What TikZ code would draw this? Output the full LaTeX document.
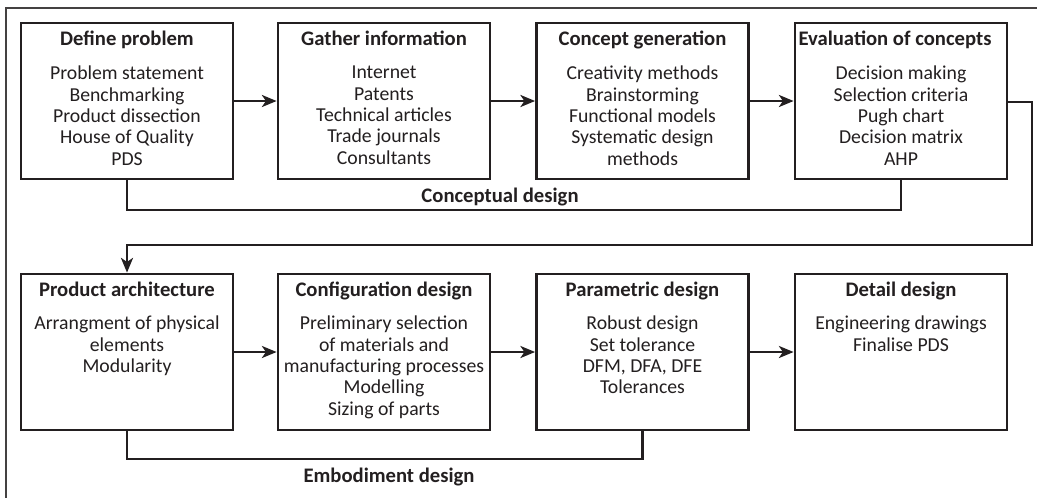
\documentclass[tikz,border=0pt]{standalone}
\usepackage{fontspec}
\setmainfont{Carlito}
\usetikzlibrary{arrows.meta}
\definecolor{ink}{HTML}{231F20}
\begin{document}
\begin{tikzpicture}[x=0.75pt,y=-0.75pt,
  stagebox/.style={draw=ink,line width=2.1pt,fill=white,minimum width=212*0.75pt,minimum height=156*0.75pt,inner sep=0pt},
  titletext/.style={anchor=base,inner sep=0pt,font=\fontsize{15.5pt}{16pt}\selectfont\bfseries,text=ink},
  bodytext/.style={anchor=north,inner sep=0pt,align=center,font=\fontsize{14.8pt}{16pt}\selectfont,text=ink},
  flow/.style={draw=ink,line width=2.1pt,-{Stealth[length=11pt,width=9pt,inset=3pt]}},
  bracket/.style={draw=ink,line width=2.1pt},
  phase/.style={inner sep=0pt,font=\fontsize{15.5pt}{16pt}\selectfont\bfseries,text=ink}]
\clip (0,0) rectangle (1037,497);
\useasboundingbox (0,0) rectangle (1037,497);
\draw[draw=ink!85,line width=1.5pt] (6,8) rectangle (1040,500);
% top row
\node[stagebox] (def) at (127,101) {};
\node[stagebox] (gat) at (384,101) {};
\node[stagebox] (con) at (642.5,101) {};
\node[stagebox] (eva) at (901,101) {};
% bottom row
\node[stagebox] (arc) at (127,352) {};
\node[stagebox] (cfg) at (384,352) {};
\node[stagebox] (par) at (642.5,352) {};
\node[stagebox] (det) at (901,352) {};
% titles
\node[titletext] (tdef) at (127,45) {Define problem};
\node[titletext] (tgat) at (384,45) {Gather information};
\node[titletext] (tcon) at (642.5,45) {Concept generation};
\node[titletext] (teva) at (895,45) {Evaluation of concepts};
\node[titletext] (tarc) at (127,296) {Product architecture};
\node[titletext] (tcfg) at (384,296) {Configuration design};
\node[titletext] (tpar) at (642.5,296) {Parametric design};
\node[titletext] (tdet) at (901,296) {Detail design};
% bodies
\node[bodytext] (bdef) at (127,66) {Problem statement\\Benchmarking\\Product dissection\\House of Quality\\PDS};
\node[bodytext] (bgat) at (384,66) {Internet\\Patents\\Technical articles\\Trade journals\\Consultants};
\node[bodytext] (bcon) at (642.5,66) {Creativity methods\\Brainstorming\\Functional models\\Systematic design\\methods};
\node[bodytext] (beva) at (901,66) {Decision making\\Selection criteria\\Pugh chart\\Decision matrix\\AHP};
\node[bodytext] (barc) at (127,316) {Arrangment of physical\\elements\\Modularity};
\node[bodytext] (bcfg) at (384,316) {Preliminary selection\\of materials and\\manufacturing processes\\Modelling\\Sizing of parts};
\node[bodytext] (bpar) at (642.5,316) {Robust design\\Set tolerance\\DFM, DFA, DFE\\Tolerances};
\node[bodytext] (bdet) at (901,316) {Engineering drawings\\Finalise PDS};
% flow arrows
\draw[flow] (def.east) -- (gat.west);
\draw[flow] (gat.east) -- (con.west);
\draw[flow] (con.east) -- (eva.west);
\draw[flow] (arc.east) -- (cfg.west);
\draw[flow] (cfg.east) -- (par.west);
\draw[flow] (par.east) -- (det.west);
\coordinate (r1) at (1032,102);
\coordinate (r2) at (1032,245);
\coordinate (r3) at (127,245);
\draw[flow] (eva.east |- r1) -- (r1) -- (r2) -- (r3) -- (arc.north);
% phase brackets
\coordinate (c1) at (127,210);
\coordinate (c2) at (901,210);
\draw[bracket] (def.south) -- (c1) -- (c2) -- (eva.south);
\node[phase] (lcon) at (500,197) {Conceptual design};
\coordinate (e1) at (127,459);
\coordinate (e2) at (642.5,459);
\draw[bracket] (arc.south) -- (e1) -- (e2) -- (par.south);
\node[phase] (lemb) at (389,477) {Embodiment design};
\end{tikzpicture}
\end{document}
